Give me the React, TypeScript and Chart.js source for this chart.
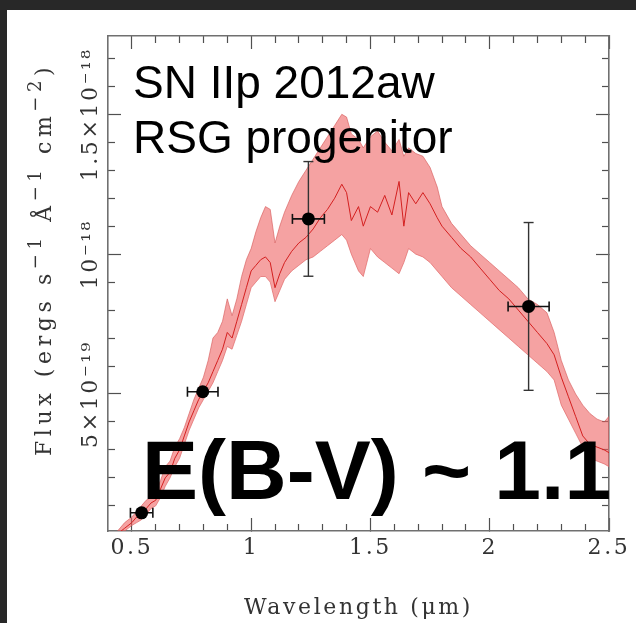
import React, { useEffect, useRef } from "react";
import { Chart, registerables } from "chart.js";

Chart.register(...registerables);

// ---------- data (flux in units of 1e-18 erg s^-1 Å^-1 cm^-2) ----------
const WAVELENGTH = [
  0.44, 0.47, 0.5, 0.52, 0.54, 0.56, 0.58, 0.6, 0.62, 0.64,
  0.66, 0.68, 0.7, 0.72, 0.74, 0.76, 0.78, 0.8, 0.82, 0.84,
  0.86, 0.88, 0.9, 0.92, 0.94, 0.96, 0.98, 1.0, 1.02, 1.04,
  1.06, 1.08, 1.1, 1.12, 1.14, 1.17, 1.2, 1.23, 1.26, 1.29,
  1.32, 1.35, 1.38, 1.4, 1.42, 1.45, 1.47, 1.5, 1.53, 1.56,
  1.59, 1.62, 1.64, 1.66, 1.69, 1.72, 1.75, 1.78, 1.8, 1.84,
  1.88, 1.92, 1.96, 2.0, 2.04, 2.08, 2.12, 2.16, 2.2, 2.24,
  2.27, 2.3, 2.33, 2.36, 2.39, 2.42, 2.45, 2.48, 2.5,
];
const FLUX_MODEL = [
  0.0, 0.02, 0.04, 0.06, 0.07, 0.09, 0.11, 0.12, 0.16, 0.2,
  0.22, 0.27, 0.3, 0.35, 0.4, 0.44, 0.48, 0.51, 0.54, 0.58,
  0.62, 0.66, 0.72, 0.7, 0.76, 0.82, 0.88, 0.94, 0.96, 0.98,
  0.99, 0.97, 0.88, 0.93, 0.97, 1.01, 1.04, 1.06, 1.09, 1.13,
  1.16, 1.2, 1.25, 1.22, 1.12, 1.17, 1.1, 1.17, 1.15, 1.21,
  1.14, 1.26, 1.1, 1.22, 1.18, 1.22, 1.18, 1.13, 1.1, 1.06,
  1.02, 0.99, 0.95, 0.91, 0.87, 0.84, 0.8, 0.76, 0.72, 0.68,
  0.64, 0.56, 0.49, 0.42, 0.35, 0.32, 0.31, 0.3, 0.29,
];
const FLUX_LOWER = [
  -0.01, 0.01, 0.03, 0.04, 0.05, 0.07, 0.09, 0.1, 0.13, 0.17,
  0.2, 0.24, 0.27, 0.32, 0.37, 0.41, 0.45, 0.48, 0.51, 0.54,
  0.58, 0.62, 0.67, 0.66, 0.71, 0.76, 0.82, 0.88, 0.9, 0.92,
  0.92, 0.9, 0.83, 0.87, 0.91, 0.94, 0.96, 0.98, 0.99, 1.01,
  1.03, 1.05, 1.07, 1.05, 1.0, 0.94, 0.92, 1.02, 0.99, 0.97,
  0.95, 0.93, 0.97, 1.02, 1.0, 0.99, 0.97, 0.94, 0.92, 0.88,
  0.85, 0.82, 0.79, 0.76, 0.73, 0.7, 0.67, 0.64, 0.61, 0.58,
  0.55, 0.46, 0.41, 0.36, 0.31, 0.27, 0.26, 0.25, 0.24,
];
const FLUX_UPPER = [
  0.01, 0.04, 0.06, 0.08, 0.1, 0.12, 0.13, 0.15, 0.19, 0.24,
  0.26, 0.31, 0.34, 0.38, 0.43, 0.48, 0.52, 0.56, 0.62, 0.7,
  0.72, 0.76, 0.84, 0.78, 0.84, 0.92, 0.98, 1.02, 1.08, 1.13,
  1.17, 1.16, 1.04, 1.1, 1.15, 1.21, 1.26, 1.3, 1.34, 1.38,
  1.42, 1.46, 1.5, 1.49, 1.43, 1.41, 1.38, 1.42, 1.44, 1.4,
  1.37, 1.41, 1.35, 1.38, 1.36, 1.35, 1.31, 1.24, 1.17, 1.11,
  1.07, 1.03, 1.0, 0.97, 0.94, 0.91, 0.88, 0.84, 0.82, 0.79,
  0.72, 0.62, 0.55, 0.5, 0.46, 0.43, 0.41, 0.4, 0.42,
];

const PHOT_WL = [0.541, 0.797, 1.24, 2.163];
const PHOT_FLUX = [0.075, 0.508, 1.126, 0.813];
const PHOT_WL_ERR = [0.047, 0.064, 0.067, 0.086];
const PHOT_FLUX_ERR = [0, 0, 0.205, 0.3];

const X_RANGE = [0.4, 2.5];
const Y_RANGE = [0.01, 1.78];
const X_MAJOR = [0.5, 1, 1.5, 2, 2.5];
const X_TICK_LABELS = ["0.5", "1", "1.5", "2", "2.5"];
const X_MINOR = [0.6, 0.7, 0.8, 0.9, 1.1, 1.2, 1.3, 1.4, 1.6, 1.7, 1.8, 1.9, 2.1, 2.2, 2.3, 2.4];
const Y_MAJOR = [0.5, 1.0, 1.5];
const Y_TICK_LABELS = ["5×10⁻¹⁹", "10⁻¹⁸", "1.5×10⁻¹⁸"];
const Y_MINOR = [0.1, 0.2, 0.3, 0.4, 0.6, 0.7, 0.8, 0.9, 1.1, 1.2, 1.3, 1.4, 1.6, 1.7];

const X_TITLE = "Wavelength (μm)";
// y title as [text, isSuperscript] runs: Flux (ergs s^-1 Å^-1 cm^-2)
const Y_TITLE_RUNS: [string, boolean][] = [
  ["Flux (ergs s", false],
  ["−1", true],
  [" Å", false],
  ["−1", true],
  [" cm", false],
  ["−2", true],
  [")", false],
];
const NAME_LINES = ["SN IIp 2012aw", "RSG progenitor"];
const EXTINCTION_LABEL = "E(B-V) ~ 1.1";

// ---------- style ----------
const W = 629;
const H = 613;
const SERIF = '"DejaVu Serif"';
const LS = "2.6px";
const TITLE_LS = "4.6px";
const LABEL_SIZE = 22;
const SUP_SIZE = 18;
const AXIS_COLOR = "#707070";
const TICK_COLOR = "#505050";
const TEXT_COLOR = "#333333";

function measureWidest(labels: string[]) {
  const c = document.createElement("canvas").getContext("2d") as any;
  c.font = `${LABEL_SIZE}px ${SERIF}`;
  c.letterSpacing = LS;
  return Math.max(...labels.map((t) => c.measureText(t).width));
}

function makeAxis(
  axis: "x" | "y",
  position: string,
  values: number[],
  major: boolean,
  size: number,
  weight: number,
  extra: any = {}
) {
  const range = axis === "x" ? X_RANGE : Y_RANGE;
  return {
    type: "linear",
    axis,
    position,
    min: range[0],
    max: range[1],
    bounds: "data",
    weight,
    afterBuildTicks: (s: any) => {
      s.ticks = values.map((v) => ({ value: v }));
    },
    afterFit: (s: any) => {
      if (axis === "x") s.height = size;
      else s.width = size;
      s.paddingLeft = 0;
      s.paddingRight = 0;
      s.paddingTop = 0;
      s.paddingBottom = 0;
    },
    grid: {
      display: true,
      drawOnChartArea: false,
      drawTicks: true,
      tickLength: major ? -13 : -7,
      tickColor: TICK_COLOR,
      tickWidth: 1.2,
    },
    border: { display: major, color: AXIS_COLOR, width: 1.6 },
    ticks: { display: false, autoSkip: false },
    ...extra,
  };
}

// draws rotated (bottom-to-top) text runs starting at (sx, sy)
function drawRuns(ctx: any, runs: [string, boolean][], sx: number, sy: number) {
  const baseFont = `${LABEL_SIZE}px ${SERIF}`;
  const supFont = `${SUP_SIZE}px ${SERIF}`;
  ctx.save();
  ctx.translate(sx, sy);
  ctx.rotate(-Math.PI / 2);
  ctx.textAlign = "left";
  ctx.textBaseline = "middle";
  let x = 0;
  runs.forEach(([t, sup]) => {
    ctx.font = sup ? supFont : baseFont;
    ctx.fillText(t, x, sup ? -9 : 0);
    x += ctx.measureText(t).width;
  });
  ctx.restore();
}

const annotationPlugin = {
  id: "sedAnnotations",
  beforeUpdate(chart: any) {
    chart.ctx.letterSpacing = LS;
  },
  beforeDraw(chart: any) {
    const ctx = chart.ctx;
    ctx.save();
    ctx.fillStyle = "#ffffff";
    ctx.fillRect(0, 0, chart.width, chart.height);
    ctx.restore();
    ctx.letterSpacing = LS;
  },
  afterDraw(chart: any) {
    const ctx = chart.ctx;
    const area = chart.chartArea;
    ctx.save();
    ctx.letterSpacing = "0px";
    ctx.fillStyle = "#000000";
    ctx.textAlign = "left";
    ctx.textBaseline = "alphabetic";
    ctx.font = '46px "Liberation Sans"';
    ctx.fillText(NAME_LINES[0], area.left + 25, area.top + 62);
    ctx.fillText(NAME_LINES[1], area.left + 25, area.top + 117);
    ctx.font = 'bold 84px "Liberation Sans"';
    ctx.fillText(EXTINCTION_LABEL, area.left + 34, area.top + 463);
    // y-axis title
    ctx.letterSpacing = TITLE_LS;
    ctx.fillStyle = TEXT_COLOR;
    drawRuns(ctx, Y_TITLE_RUNS, 38, 446);
    ctx.restore();
  },
};

export default function App() {
  const ref = useRef<HTMLCanvasElement | null>(null);

  useEffect(() => {
    if (!ref.current) return;
    const widestY = measureWidest(Y_TICK_LABELS);

    const points = PHOT_WL.map((x, i) => ({ x, y: PHOT_FLUX[i] }));
    const xErr: any[] = [];
    const yErr: any[] = [];
    PHOT_WL.forEach((x, i) => {
      const y = PHOT_FLUX[i];
      xErr.push({ x: x - PHOT_WL_ERR[i], y }, { x: x + PHOT_WL_ERR[i], y }, { x, y: null });
      if (PHOT_FLUX_ERR[i] > 0) {
        yErr.push({ x, y: y - PHOT_FLUX_ERR[i] }, { x, y: y + PHOT_FLUX_ERR[i] }, { x, y: null });
      }
    });
    const model = WAVELENGTH.map((x, i) => ({ x, y: FLUX_MODEL[i] }));
    const upper = WAVELENGTH.map((x, i) => ({ x, y: FLUX_UPPER[i] }));
    const lower = WAVELENGTH.map((x, i) => ({ x, y: FLUX_LOWER[i] }));

    const lineBase = { showLine: true, pointRadius: 0, tension: 0, spanGaps: false };

    const chart = new Chart(ref.current, {
      type: "scatter",
      data: {
        datasets: [
          {
            data: points,
            pointRadius: 6.5,
            pointBackgroundColor: "#000000",
            pointBorderWidth: 0,
            showLine: false,
          },
          {
            ...lineBase,
            data: xErr,
            borderColor: "#111111",
            borderWidth: 1.6,
            pointRadius: 5,
            pointStyle: "line",
            pointRotation: 90,
            pointBorderColor: "#111111",
            pointBorderWidth: 1.6,
          },
          {
            ...lineBase,
            data: yErr,
            borderColor: "#333333",
            borderWidth: 1.4,
            pointRadius: 5,
            pointStyle: "line",
            pointRotation: 0,
            pointBorderColor: "#333333",
            pointBorderWidth: 1.4,
          },
          {
            ...lineBase,
            data: model,
            borderColor: "#d42020",
            borderWidth: 1,
          },
          {
            ...lineBase,
            data: upper,
            borderColor: "rgba(214,90,90,0.8)",
            borderWidth: 0.8,
            backgroundColor: "rgba(238,100,100,0.6)",
            fill: "+1",
          },
          {
            ...lineBase,
            data: lower,
            borderColor: "rgba(214,90,90,0.8)",
            borderWidth: 0.8,
            fill: false,
          },
        ],
      } as any,
      options: {
        responsive: false,
        animation: false,
        devicePixelRatio: 1,
        events: [],
        layout: { padding: { left: 0, right: 27, top: 26, bottom: 0 } },
        plugins: { legend: { display: false }, tooltip: { enabled: false } },
        scales: {
          x: makeAxis("x", "bottom", X_MAJOR, true, 92, 1, {
            ticks: {
              display: true,
              autoSkip: false,
              padding: 17,
              maxRotation: 0,
              minRotation: 0,
              color: TEXT_COLOR,
              font: { family: SERIF, size: LABEL_SIZE },
              callback: (v: number) => X_TICK_LABELS[X_MAJOR.indexOf(v)],
            },
            title: {
              display: true,
              text: X_TITLE,
              color: TEXT_COLOR,
              font: { family: SERIF, size: LABEL_SIZE },
              padding: { top: 0, bottom: 2 },
            },
          }),
          xMinor: makeAxis("x", "bottom", X_MINOR, false, 0, 0),
          xTop: makeAxis("x", "top", X_MAJOR, true, 0, 1),
          xTopMinor: makeAxis("x", "top", X_MINOR, false, 0, 0),
          y: makeAxis("y", "left", Y_MAJOR, true, 101, 1, {
            ticks: {
              display: true,
              autoSkip: false,
              padding: 30 - widestY / 2,
              minRotation: 90,
              maxRotation: 90,
              crossAlign: "center",
              color: TEXT_COLOR,
              font: { family: SERIF, size: LABEL_SIZE },
              callback: (v: number) => Y_TICK_LABELS[Y_MAJOR.indexOf(v)],
            },
          }),
          yMinor: makeAxis("y", "left", Y_MINOR, false, 0, 0),
          yRight: makeAxis("y", "right", Y_MAJOR, true, 0, 1),
          yRightMinor: makeAxis("y", "right", Y_MINOR, false, 0, 0),
        },
      } as any,
      plugins: [annotationPlugin],
    });
    return () => chart.destroy();
  }, []);

  return (
    <div
      style={{
        position: "absolute",
        left: 0,
        top: 0,
        width: 636,
        height: 623,
        background: "#282828",
        overflow: "hidden",
      }}
    >
      <canvas
        ref={ref}
        width={W}
        height={H}
        style={{ position: "absolute", left: 7, top: 10, width: W, height: H, display: "block" }}
      />
    </div>
  );
}
